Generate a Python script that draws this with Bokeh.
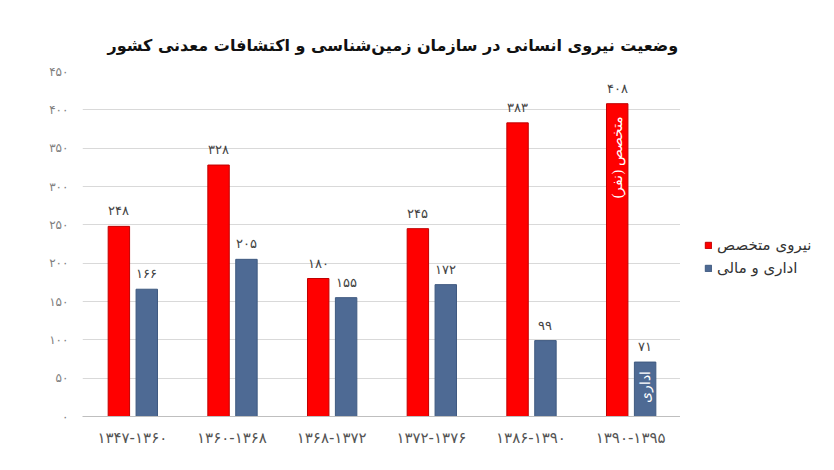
import math
from bokeh.plotting import figure
from bokeh.layouts import row
from bokeh.models import ColumnDataSource, FactorRange, LabelSet, Legend, LegendItem, FixedTicker
from bokeh.transform import dodge
from bokeh.embed import file_html
from bokeh.resources import INLINE

categories = ["۱۳۴۷-۱۳۶۰", "۱۳۶۰-۱۳۶۸", "۱۳۶۸-۱۳۷۲", "۱۳۷۲-۱۳۷۶", "۱۳۸۶-۱۳۹۰", "۱۳۹۰-۱۳۹۵"]
specialist = [248, 328, 180, 245, 383, 408]
admin = [166, 205, 155, 172, 99, 71]
specialist_labels = ["۲۴۸", "۳۲۸", "۱۸۰", "۲۴۵", "۳۸۳", "۴۰۸"]
admin_labels = ["۱۶۶", "۲۰۵", "۱۵۵", "۱۷۲", "۹۹", "۷۱"]
y_ticks = [0, 50, 100, 150, 200, 250, 300, 350, 400, 450]
y_tick_labels = ["۰", "۵۰", "۱۰۰", "۱۵۰", "۲۰۰", "۲۵۰", "۳۰۰", "۳۵۰", "۴۰۰", "۴۵۰"]
title = "وضعیت نیروی انسانی در سازمان زمین‌شناسی و اکتشافات معدنی کشور"
series_names = ["نیروی متخصص", "اداری و مالی"]
bar_notes = ["متخصص (نفر)", "اداری"]
bar_note_y = [338, 38]

FONT = "DejaVu Sans"
RED = "#FF0000"
BLUE = "#4E6A94"
RED_LINE = "#C00000"
BLUE_LINE = "#3F5A80"
RED_OFF, BLUE_OFF, BAR_W = -0.135, 0.145, 0.215

src = ColumnDataSource(dict(cat=categories, spec=specialist, adm=admin,
                            spec_lab=specialist_labels, adm_lab=admin_labels))

p = figure(x_range=FactorRange(*categories, range_padding=0.0), y_range=(0, 450),
           width=680, height=470, output_backend="svg", toolbar_location=None,
           min_border_left=82, min_border_right=0, min_border_top=71, min_border_bottom=54)

p.title.text = title
p.title.align = "left"
p.title.offset = 25
p.title.standoff = 33
p.title.text_font = FONT
p.title.text_font_size = "16px"
p.title.text_font_style = "bold"
p.title.text_color = "#111111"

p.vbar(x=dodge("cat", RED_OFF, range=p.x_range), top="spec", width=BAR_W, source=src,
       fill_color=RED, line_color=RED_LINE, line_width=1)
p.vbar(x=dodge("cat", BLUE_OFF, range=p.x_range), top="adm", width=BAR_W, source=src,
       fill_color=BLUE, line_color=BLUE_LINE, line_width=1)

p.add_layout(LabelSet(x=dodge("cat", RED_OFF, range=p.x_range), y="spec", text="spec_lab", source=src,
                      text_align="center", text_baseline="bottom", y_offset=8,
                      text_font=FONT, text_font_size="13px", text_color="#444444"))
p.add_layout(LabelSet(x=dodge("cat", BLUE_OFF, range=p.x_range), y="adm", text="adm_lab", source=src,
                      text_align="center", text_baseline="bottom", y_offset=8,
                      text_font=FONT, text_font_size="13px", text_color="#444444"))

# rotated annotations inside the last pair of bars
p.add_layout(LabelSet(x=dodge("cat", RED_OFF, range=p.x_range), y="y", text="t",
                      source=ColumnDataSource(dict(cat=[categories[-1]], y=[bar_note_y[0]], t=[bar_notes[0]])),
                      angle=math.pi / 2, text_align="center", text_baseline="middle",
                      text_color="white", text_font=FONT, text_font_size="14px"))
p.add_layout(LabelSet(x=dodge("cat", BLUE_OFF, range=p.x_range), y="y", text="t",
                      source=ColumnDataSource(dict(cat=[categories[-1]], y=[bar_note_y[1]], t=[bar_notes[1]])),
                      angle=math.pi / 2, text_align="center", text_baseline="middle",
                      text_color="white", text_font=FONT, text_font_size="14px"))

p.xgrid.grid_line_color = None
p.ygrid.grid_line_color = "#D9D9D9"
p.yaxis.ticker = FixedTicker(ticks=y_ticks)
p.yaxis.major_label_overrides = {t: l for t, l in zip(y_ticks, y_tick_labels)}
p.yaxis.axis_line_color = None
p.yaxis.major_tick_line_color = None
p.yaxis.minor_tick_line_color = None
p.yaxis.major_label_text_font = FONT
p.yaxis.major_label_text_font_size = "12px"
p.yaxis.major_label_text_color = "#808080"
p.yaxis.major_label_standoff = 8

p.xaxis.axis_line_color = "#BFBFBF"
p.xaxis.major_tick_line_color = None
p.xaxis.minor_tick_line_color = None
p.xaxis.major_label_text_font = FONT
p.xaxis.major_label_text_font_size = "15px"
p.xaxis.major_label_text_color = "#555555"
p.xaxis.major_label_standoff = 6
p.outline_line_color = None

# legend panel to the right of the chart (swatch renderers sit outside its visible range)
lg = figure(width=154, height=470, x_range=(0, 1), y_range=(0, 1), output_backend="svg",
            toolbar_location=None, min_border=0)
lg.axis.visible = False
lg.grid.visible = False
lg.outline_line_color = None
d1 = lg.vbar(x=[5], top=[5], bottom=[4], width=1, fill_color=RED, line_color=RED_LINE)
d2 = lg.vbar(x=[5], top=[5], bottom=[4], width=1, fill_color=BLUE, line_color=BLUE_LINE)
legend = Legend(items=[LegendItem(label=series_names[0], renderers=[d1]),
                       LegendItem(label=series_names[1], renderers=[d2])],
                location=(24, 139), background_fill_alpha=0, border_line_alpha=0,
                label_text_font=FONT, label_text_font_size="15px", label_text_color="#333333",
                glyph_width=8, glyph_height=8, spacing=5, label_standoff=5, padding=0, margin=0)
lg.add_layout(legend, "center")

open("out.html", "w").write(file_html(row(p, lg), INLINE))
